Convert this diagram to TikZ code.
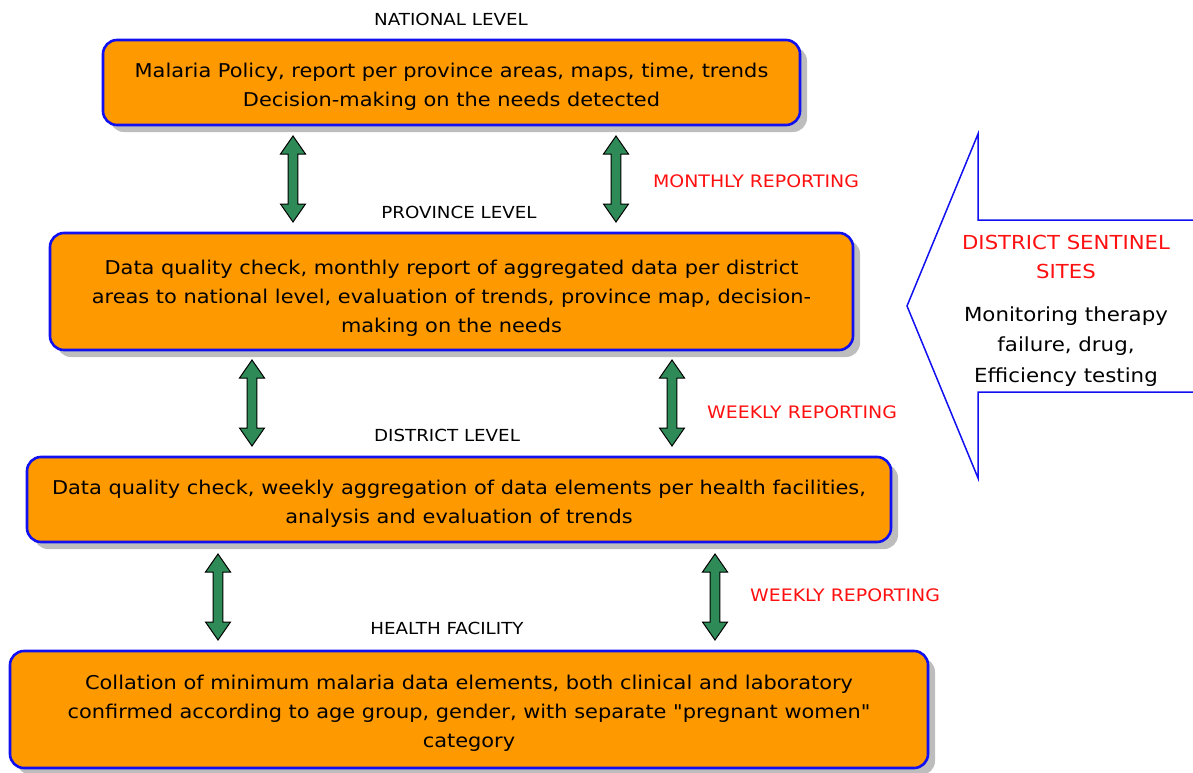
\documentclass[tikz,border=0pt]{standalone}
\usepackage{fontspec}
\setmainfont{DejaVu Sans}[FakeStretch=1.1, Ligatures=TeXOff]
\usetikzlibrary{shadows}
\definecolor{boxfill}{HTML}{FF9900}
\definecolor{boxline}{HTML}{1010F0}
\definecolor{arrowgreen}{HTML}{2E8B57}
\definecolor{shadowgray}{HTML}{BDBDBD}
\definecolor{labelred}{HTML}{FF1010}
% taller first line, to set the box text a little below the middle
\newcommand\firstlinegap[1]{\rule{0pt}{#1}}
\tikzset{
  levelbox/.style={draw=boxline, line width=2.6pt, fill=boxfill, rounded corners=14pt,
    align=center, inner sep=0pt,
    font=\fontsize{19}{29}\selectfont,
    general shadow={fill=shadowgray, shadow xshift=7pt, shadow yshift=-7pt}},
  leveltitle/.style={font=\fontsize{16.6}{18}\selectfont, inner sep=0pt},
  reporttag/.style={font=\fontsize{17.2}{18}\selectfont, text=labelred, inner sep=0pt},
  arrowfill/.style={fill=arrowgreen, draw=black, line width=1pt, line join=miter},
  dblarrow/.pic={
    \draw[arrowfill] (0,-43)--(12.5,-25)--(4.8,-25)--(4.8,25)--(12.5,25)--(0,43)
      --(-12.5,25)--(-4.8,25)--(-4.8,-25)--(-12.5,-25)--cycle;
  }
}
\begin{document}
\begin{tikzpicture}[x=1pt,y=-1pt]
\useasboundingbox (0,0) rectangle (1193,773);

% level boxes
\node[levelbox, minimum width=697pt, minimum height=85pt] (national) at (451.5,82.5)
  {\firstlinegap{23pt}Malaria Policy, report per province areas, maps, time, trends\\Decision-making on the needs detected};
\node[levelbox, minimum width=803pt, minimum height=117pt] (province) at (451.5,291.5)
  {\firstlinegap{27pt}Data quality check, monthly report of aggregated data per district\\areas to national level, evaluation of trends, province map, decision-\\making on the needs};
\node[levelbox, minimum width=864pt, minimum height=85pt] (district) at (459,499.5)
  {\firstlinegap{22pt}Data quality check, weekly aggregation of data elements per health facilities,\\analysis and evaluation of trends};
\node[levelbox, minimum width=918pt, minimum height=117pt] (facility) at (469,709.5)
  {\firstlinegap{22pt}Collation of minimum malaria data elements, both clinical and laboratory\\confirmed according to age group, gender, with separate "pregnant women"\\category};

% level titles
\node[leveltitle] (tnational) at (451,19) {NATIONAL LEVEL};
\node[leveltitle] (tprovince) at (459,212) {PROVINCE LEVEL};
\node[leveltitle] (tdistrict) at (447,435) {DISTRICT LEVEL};
\node[leveltitle] (tfacility) at (447,628) {HEALTH FACILITY};

% reporting labels
\node[reporttag] (rmonthly) at (756,181) {MONTHLY REPORTING};
\node[reporttag] (rweekly1) at (802,412) {WEEKLY REPORTING};
\node[reporttag] (rweekly2) at (845,595) {WEEKLY REPORTING};

% two-way reporting arrows between levels
\pic (a1) at (293,179) {dblarrow};
\pic (a2) at (616,179) {dblarrow};
\pic (a3) at (252,403) {dblarrow};
\pic (a4) at (672,403) {dblarrow};
\pic (a5) at (218,597) {dblarrow};
\pic (a6) at (715,597) {dblarrow};

% sentinel sites arrow, open on the right
\draw[draw=boxline, line width=1.5pt, line join=miter]
  (1195,220) -- (978,220) -- (978,134) -- (907,306) -- (978,478) -- (978,392) -- (1195,392);
\node[font=\fontsize{19.3}{29}\selectfont, text=labelred, align=center, inner sep=0pt] (sentinel) at (1066,256.5)
  {DISTRICT SENTINEL\\SITES};
\node[font=\fontsize{19.4}{30.5}\selectfont, align=center, inner sep=0pt] (monitoring) at (1066,346.5)
  {Monitoring therapy\\failure, drug,\\Efficiency testing};
\end{tikzpicture}
\end{document}
